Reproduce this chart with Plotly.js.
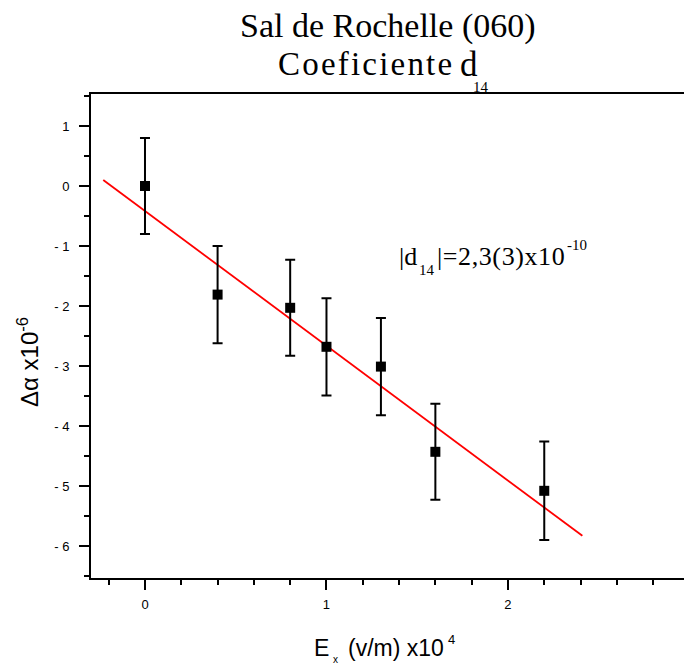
<!DOCTYPE html>
<html>
<head>
<meta charset="utf-8">
<script src="https://cdn.plot.ly/plotly-3.0.1.min.js"></script>
<style>html,body{margin:0;padding:0;background:#fff;overflow:hidden}</style>
</head>
<body>
<div id="chart" style="width:684px;height:666px"></div>
<script>
// Data
const xVals = [0, 0.4, 0.8, 1.0, 1.3, 1.6, 2.2];
const yVals = [0, -1.81, -2.03, -2.68, -3.01, -4.43, -5.08];
const yErr  = [0.8, 0.81, 0.8, 0.81, 0.81, 0.8, 0.82];
const fitX = [-0.23, 2.41];
const fitY = [0.1, -5.83];
const xTickVals = [0, 1, 2, 3];
const xTickText = ["0", "1", "2", "3"];
const yTickVals = [-6, -5, -4, -3, -2, -1, 0, 1];
const yTickText = ["- 6", "- 5", "- 4", "- 3", "- 2", "- 1", "0", "1"];
const titleLine1 = "Sal de Rochelle (060)";
const titleLine2 = "Coeficiente";
const annotMain = "|=2,3(3)x10";

const W = 684, H = 666;
const M = {l: 91, r: 0, t: 94, b: 88};
const pw = W - M.l - M.r, ph = H - M.t - M.b;
const px = v => (v - M.l) / pw;
const py = v => (H - M.b - v) / ph;

const serif = "Liberation Serif, Times New Roman, serif";
const sans = "Liberation Sans, Arial, sans-serif";

function txt(text, x, y, size, family, xanchor, extra) {
  return Object.assign({
    text: text, xref: 'paper', yref: 'paper', x: px(x), y: py(y),
    xanchor: xanchor || 'left', yanchor: 'middle', showarrow: false,
    font: {family: family, size: size, color: '#000'}, borderpad: 0
  }, extra || {});
}

const traces = [
  {
    x: fitX, y: fitY, type: 'scatter', mode: 'lines',
    line: {color: '#ff0000', width: 1.8}, hoverinfo: 'skip'
  },
  {
    x: xVals, y: yVals, type: 'scatter', mode: 'markers',
    marker: {symbol: 'square', size: 10, color: '#000'},
    error_y: {type: 'data', array: yErr, visible: true, color: '#000', thickness: 2, width: 5}
  }
];

const axisCommon = {
  showgrid: false, zeroline: false, showline: true, linecolor: '#000', linewidth: 2,
  ticks: 'outside', ticklen: 10, tickwidth: 2, tickcolor: '#000',
  tickfont: {family: sans, size: 13, color: '#000'}
};

const layout = {
  width: W, height: H, margin: M,
  paper_bgcolor: '#fff', plot_bgcolor: '#fff', showlegend: false,
  xaxis: Object.assign({}, axisCommon, {
    range: [-0.2975, 2.970], tickmode: 'array', tickvals: xTickVals, ticktext: xTickText,
    mirror: true, ticklabelstandoff: 3,
    minor: {dtick: 0.2, tick0: 0, ticks: 'outside', ticklen: 5, tickwidth: 2, tickcolor: '#000'}
  }),
  yaxis: Object.assign({}, axisCommon, {
    range: [-6.533, 1.533], tickmode: 'array', tickvals: yTickVals, ticktext: yTickText,
    ticklabelstandoff: 7,
    minor: {dtick: 0.5, tick0: 0, ticks: 'outside', ticklen: 5, tickwidth: 2, tickcolor: '#000'}
  }),
  annotations: [
    txt(titleLine1, 387.5, 26, 34, serif, 'center'),
    txt('<span style="letter-spacing:2.2px">' + titleLine2 + '</span>', 277, 64, 33, serif, 'left'),
    txt("d", 459, 64, 35, serif, 'left'),
    txt("14", 472, 87, 15, serif, 'left'),
    txt("|d", 398, 256, 26, serif, 'left'),
    txt("14", 418, 270, 15, serif, 'left'),
    txt('<span style="letter-spacing:0.6px">' + annotMain + '</span>', 436, 256, 26, serif, 'left'),
    txt("-10", 566, 245, 15, serif, 'left'),
    txt("E", 313, 648, 23, sans, 'left'),
    txt("x", 332, 659, 10, sans, 'left'),
    txt("(v/m) x10", 347, 648, 23, sans, 'left'),
    txt("4", 447, 639, 13, sans, 'left'),
    txt("\u0394\u03b1 x10<sup>-6</sup>", 28, 362, 24, sans, 'center', {textangle: -90})
  ]
};

Plotly.newPlot('chart', traces, layout, {displayModeBar: false, staticPlot: true});
</script>
</body>
</html>
